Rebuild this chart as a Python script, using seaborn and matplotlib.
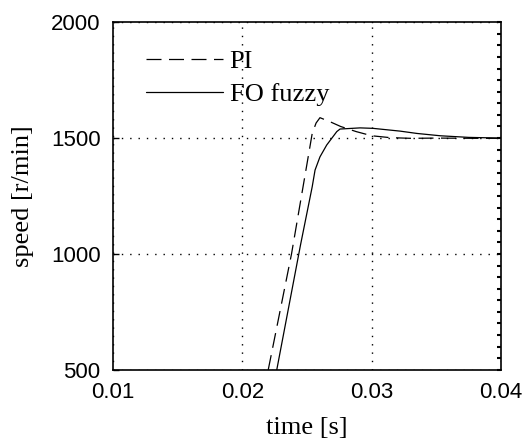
import pandas as pd
import seaborn as sns
import matplotlib.pyplot as plt
from matplotlib.ticker import MultipleLocator

# Speed response data
pi_time = [0.0220, 0.0238, 0.0254, 0.0257, 0.0260, 0.0268, 0.0276, 0.0288,
           0.0300, 0.0314, 0.0330, 0.0350, 0.0380, 0.0400]
pi_speed = [500, 1000, 1520, 1565, 1588, 1570, 1550, 1528,
            1510, 1502, 1499, 1500, 1499, 1499]

fo_time = [0.02266, 0.0245, 0.0254, 0.02562, 0.0260, 0.02652, 0.0273, 0.02755,
           0.0291, 0.0301, 0.0322, 0.0335, 0.0353, 0.0375, 0.0400]
fo_speed = [500, 1040, 1290, 1362, 1419, 1470, 1528, 1539,
            1544, 1542, 1530, 1520, 1510, 1503, 1500]

x_ticks = [0.01, 0.02, 0.03, 0.04]
x_tick_labels = ["0.01", "0.02", "0.03", "0.04"]
y_ticks = [500, 1000, 1500, 2000]


def main():
    sns.set_theme(style="white")
    plt.rcParams['font.family'] = ['Liberation Serif', 'DejaVu Serif']

    fig = plt.figure(figsize=(5.28, 4.44), dpi=100)
    ax = fig.add_axes([0.214, 0.167, 0.735, 0.783])

    pi_df = pd.DataFrame({"time": pi_time, "speed": pi_speed})
    fo_df = pd.DataFrame({"time": fo_time, "speed": fo_speed})

    sns.lineplot(data=pi_df, x="time", y="speed", ax=ax, color="black",
                 linewidth=0.9, label="PI")
    ax.lines[-1].set_linestyle((0, (12, 6)))
    sns.lineplot(data=fo_df, x="time", y="speed", ax=ax, color="black",
                 linewidth=0.9, label="FO fuzzy")

    ax.set_xlim(0.01, 0.04)
    ax.set_ylim(500, 2000)
    ax.set_xticks(x_ticks)
    ax.set_xticklabels(x_tick_labels)
    ax.set_yticks(y_ticks)

    ax.grid(True, color="black", linestyle=(0, (1, 5)), linewidth=1.0)
    for spine in ax.spines.values():
        spine.set_color("black")
        spine.set_linewidth(1.2)

    ax.tick_params(axis="both", direction="in", length=4, width=1,
                   colors="black", labelsize=16, pad=9)
    for lab in ax.get_xticklabels() + ax.get_yticklabels():
        lab.set_family("Liberation Sans")
    ax.set_xlabel("time [s]", fontsize=19, color="black", labelpad=10)
    ax.set_ylabel("speed [r/min]", fontsize=19, color="black", labelpad=12)

    # small inward ticks along the right edge
    ax_r = ax.twinx()
    ax_r.set_ylim(500, 2000)
    ax_r.yaxis.set_major_locator(MultipleLocator(50))
    ax_r.tick_params(axis="y", direction="in", length=3, width=1.5,
                     labelright=False, colors="black")
    ax_r.grid(False)
    for spine in ax_r.spines.values():
        spine.set_visible(False)

    leg = ax.legend(loc="upper left", frameon=False, fontsize=19,
                    handlelength=2.9, handletextpad=0.27, labelspacing=0.35,
                    bbox_to_anchor=(0.085, 0.92), borderaxespad=0, borderpad=0)
    for text in leg.get_texts():
        text.set_color("black")

    fig.savefig("out.png", dpi=100)


if __name__ == "__main__":
    main()
